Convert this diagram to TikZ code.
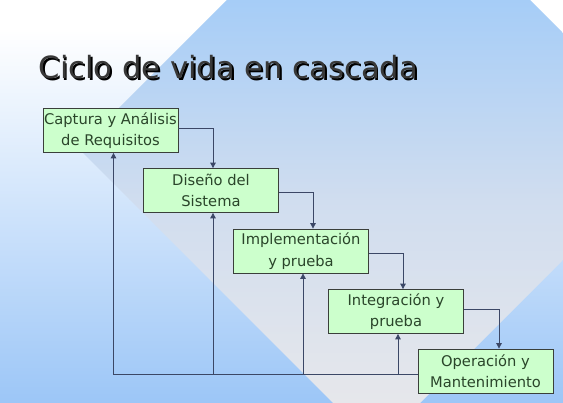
\documentclass[tikz,border=0pt]{standalone}
\usepackage{fontspec}
\setmainfont{DejaVu Sans}
\usetikzlibrary{arrows.meta}
\definecolor{bgblue}{HTML}{9CC6F7}
\definecolor{dtop}{HTML}{A6CDF7}
\definecolor{dmid}{HTML}{D0DDEF}
\definecolor{dbot}{HTML}{E6E7EB}
\definecolor{boxgreen}{HTML}{CCFFCC}
\definecolor{boxborder}{HTML}{3A3F3A}
\definecolor{boxtext}{HTML}{2A452A}
\definecolor{conncol}{HTML}{3B4766}
\definecolor{titlegray}{HTML}{383838}
\begin{document}
\begin{tikzpicture}[x=1pt,y=-1pt,
  stagebox/.style={draw=boxborder, line width=0.8pt, fill=boxgreen, minimum width=135pt,
    minimum height=44pt, inner sep=0pt, align=center, text=boxtext,
    font=\fontsize{14.7}{21.5}\selectfont},
  conn/.style={draw=conncol, line width=0.85pt, -{Triangle[width=5.5pt,length=5.5pt]}},
  titletext/.style={anchor=base west, inner sep=0pt, font=\fontsize{30.6}{36}\selectfont}]
% background
\useasboundingbox (0,0) rectangle (563,403);
\fill[white] (0,0) rectangle (563,403);
\shade[top color=white, bottom color=bgblue] (0,30) rectangle (563,403);
\begin{scope}
  \clip (378.5,-151.5) -- (676.5,146.5) -- (376.5,446.5) -- (78.5,148.5) -- cycle;
  \shade[top color=dtop, bottom color=dmid] (0,0) rectangle (563,200);
  \shade[top color=dmid, bottom color=dbot] (0,199.5) rectangle (563,403);
\end{scope}
% title (with its drop shadow)
\node[titletext, text=black] (tshadow) at (40.3,81) {Ciclo de vida en cascada};
\node[titletext, text=titlegray] (title) at (38.5,79) {Ciclo de vida en cascada};
% stages
\node[stagebox] (b1) at (110.5,130.5) {Captura y Análisis\\de Requisitos};
\node[stagebox] (b2) at (211,190.5) {Diseño del\\Sistema};
\node[stagebox] (b3) at (301,251) {Implementación\\y prueba};
\node[stagebox] (b4) at (396,311.5) {Integración y\\prueba};
\node[stagebox] (b5) at (485.5,371) {Operación y\\Mantenimiento};
% forward arrows
\draw[conn] ([yshift=2pt]b1.east) -| ([xshift=2pt]b2.north);
\draw[conn] ([yshift=-2pt]b2.east) -| ([xshift=12pt]b3.north);
\draw[conn] ([yshift=-2pt]b3.east) -| ([xshift=7pt]b4.north);
\draw[conn] ([yshift=2pt]b4.east) -| ([xshift=13.5pt]b5.north);
% feedback
\coordinate (fb) at ([yshift=-3.3pt]b5.west);
\draw[conn] (fb) -| ([xshift=3pt]b1.south);
\draw[conn] ([xshift=2pt]b2.south |- fb) -- ([xshift=2pt]b2.south);
\draw[conn] ([xshift=2pt]b3.south |- fb) -- ([xshift=2pt]b3.south);
\draw[conn] ([xshift=2pt]b4.south |- fb) -- ([xshift=2pt]b4.south);
\end{tikzpicture}
\end{document}
